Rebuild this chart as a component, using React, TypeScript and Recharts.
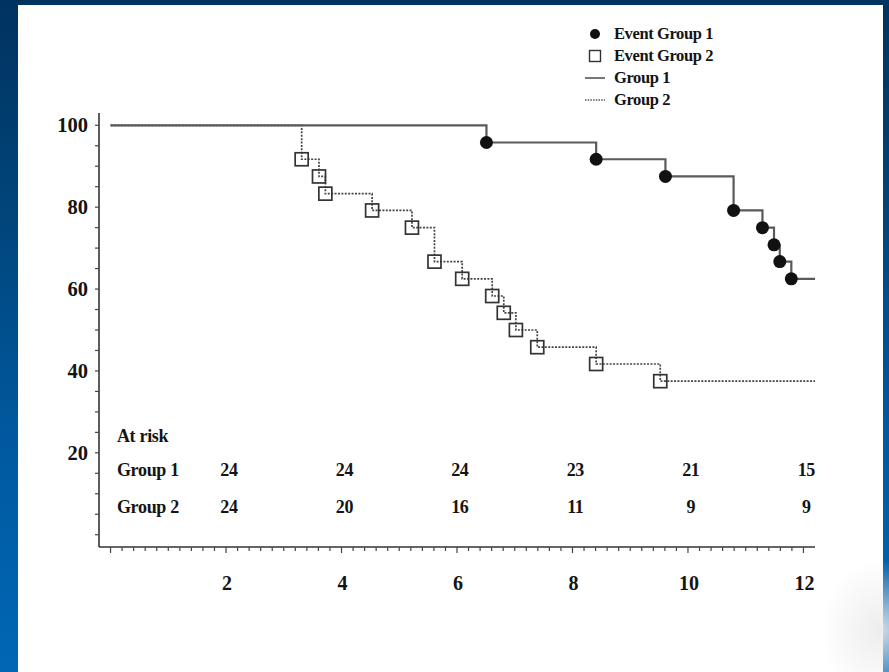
import React from 'react';
import { ComposedChart, Line, Scatter, XAxis, YAxis } from 'recharts';

// Kaplan-Meier estimates (percent surviving) at each event time
const eventTimes1 = [6.51, 8.41, 9.61, 10.79, 11.29, 11.49, 11.59, 11.79];
const survival1 = [95.8, 91.7, 87.5, 79.2, 75.0, 70.8, 66.7, 62.5];
const eventTimes2 = [3.31, 3.61, 3.72, 4.53, 5.22, 5.61, 6.09, 6.61, 6.81, 7.02, 7.39, 8.41, 9.52];
const survival2 = [91.7, 87.5, 83.3, 79.2, 75.0, 66.7, 62.5, 58.3, 54.2, 50.0, 45.8, 41.7, 37.5];
const followUpEnd = 12.2;

// Numbers at risk
const riskTimes = [2, 4, 6, 8, 10, 12];
const atRisk1 = [24, 24, 24, 23, 21, 15];
const atRisk2 = [24, 20, 16, 11, 9, 9];

const xLabelTicks = [2, 4, 6, 8, 10, 12];
const yLabelTicks = [20, 40, 60, 80, 100];

const FONT = '"Liberation Serif", "Times New Roman", serif';
const INK = '#141414';

const W = 889;
const H = 672;

// minor tick grids
const xMinor: number[] = [];
for (let i = 0; i <= 60; i++) xMinor.push(Math.round(i * 2) / 10);
const yMinor: number[] = [];
for (let i = 0; i <= 20; i++) yMinor.push(i * 5);

const curve = (times: number[], surv: number[]) => [
  { t: 0, v: 100 },
  ...times.map((t, i) => ({ t, v: surv[i] })),
  { t: followUpEnd, v: surv[surv.length - 1] },
];
const events = (times: number[], surv: number[]) => times.map((t, i) => ({ t, v: surv[i] }));

const curve1 = curve(eventTimes1, survival1);
const curve2 = curve(eventTimes2, survival2);
const events1 = events(eventTimes1, survival1);
const events2 = events(eventTimes2, survival2);

// vertical levels (in axis units) of the at-risk rows' baselines
const HEADER_LEVEL = 22.7;
const ROW1_LEVEL = 14.3;
const ROW2_LEVEL = 5.2;
const ROW_LABEL_T = 0.11;

const riskCells = [
  ...riskTimes.map((t, i) => ({ t: t + 0.05, v: ROW1_LEVEL, text: String(atRisk1[i]), anchor: 'middle' })),
  ...riskTimes.map((t, i) => ({ t: t + 0.05, v: ROW2_LEVEL, text: String(atRisk2[i]), anchor: 'middle' })),
  { t: ROW_LABEL_T, v: HEADER_LEVEL, text: 'At risk', anchor: 'start' },
  { t: ROW_LABEL_T, v: ROW1_LEVEL, text: 'Group 1', anchor: 'start' },
  { t: ROW_LABEL_T, v: ROW2_LEVEL, text: 'Group 2', anchor: 'start' },
];

const isLabelTick = (v: number, list: number[]) => list.some((x) => Math.abs(x - v) < 1e-6);

const XTick = (props: any) => {
  const { x, y, payload } = props;
  const v = payload.value as number;
  const major = isLabelTick(v, xLabelTicks) || Math.abs(v) < 1e-6;
  return (
    <g>
      <line x1={x} x2={x} y1={y} y2={y + (major ? 6 : 4)} stroke="#444" strokeWidth={1.2} />
      {isLabelTick(v, xLabelTicks) && (
        <text x={x + 1} y={y + 43} textAnchor="middle" fontFamily={FONT} fontWeight="bold" fontSize={20} fill={INK}>
          {v}
        </text>
      )}
    </g>
  );
};

const YTick = (props: any) => {
  const { x, y, payload } = props;
  const v = payload.value as number;
  return (
    <g>
      <line x1={x - 4} x2={x} y1={y} y2={y} stroke="#444" strokeWidth={1.2} />
      {isLabelTick(v, yLabelTicks) && (
        <text x={x - 11} y={y + 7} textAnchor="end" fontFamily={FONT} fontWeight="bold" fontSize={20.5} fill={INK}>
          {v}
        </text>
      )}
    </g>
  );
};

const Dot1 = (p: any) => <circle cx={p.cx} cy={p.cy} r={6.5} fill="#111" />;
const Box2 = (p: any) => (
  <rect x={p.cx - 6.5} y={p.cy - 6.5} width={13} height={13} fill="none" stroke="#333" strokeWidth={1.7} />
);
const Cell = (p: any) => (
  <text
    x={p.cx}
    y={p.cy}
    textAnchor={p.payload.anchor}
    fontFamily={FONT}
    fontWeight="bold"
    fontSize={18}
    fill={INK}
    letterSpacing={-0.3}
  >
    {p.payload.text}
  </text>
);

const legendItems = [
  { kind: 'dot', text: 'Event Group 1' },
  { kind: 'box', text: 'Event Group 2' },
  { kind: 'solid', text: 'Group 1' },
  { kind: 'dotted', text: 'Group 2' },
];

const LegendIcon = ({ kind }: { kind: string }) => (
  <svg width={22} height={16} style={{ display: 'block' }}>
    {kind === 'dot' && <circle cx={11} cy={8} r={5} fill="#111" />}
    {kind === 'box' && <rect x={5.5} y={2.5} width={11} height={11} fill="none" stroke="#333" strokeWidth={1.4} />}
    {kind === 'solid' && <line x1={1} x2={21} y1={8} y2={8} stroke="#555" strokeWidth={1.6} />}
    {kind === 'dotted' && <line x1={1} x2={21} y1={8} y2={8} stroke="#555" strokeWidth={1.4} strokeDasharray="1.5 1.2" />}
  </svg>
);

export default function App() {
  return (
    <div
      style={{
        position: 'absolute',
        left: 0,
        top: 0,
        width: W,
        height: H,
        overflow: 'hidden',
        background: 'linear-gradient(180deg, #00335f 0%, #004479 30%, #00599f 65%, #0067b6 100%)',
      }}
    >
      <div style={{ position: 'absolute', left: 18, top: 5, width: 865, height: 667, background: '#ffffff' }} />
      <div
        style={{
          position: 'absolute',
          left: 820,
          top: 560,
          width: 120,
          height: 140,
          background: 'radial-gradient(closest-side, rgba(235,235,235,0.9), rgba(255,255,255,0))',
        }}
      />
      <div style={{ position: 'absolute', left: 0, top: 0 }}>
        <ComposedChart width={W} height={H} margin={{ top: 113, right: 74, bottom: 85, left: 39 }}>
          <XAxis
            type="number"
            dataKey="t"
            domain={[-0.2, 12.2]}
            ticks={xMinor}
            interval={0}
            tickSize={0}
            tickMargin={0}
            tickLine={false}
            axisLine={{ stroke: '#333', strokeWidth: 1.6 }}
            tick={<XTick />}
            height={40}
            allowDataOverflow
          />
          <YAxis
            type="number"
            dataKey="v"
            domain={[-3, 103]}
            ticks={yMinor}
            interval={0}
            tickSize={0}
            tickMargin={0}
            tickLine={false}
            axisLine={{ stroke: '#333', strokeWidth: 1.6 }}
            tick={<YTick />}
            width={60}
            allowDataOverflow
          />
          <Line
            data={curve2}
            dataKey="v"
            type="stepAfter"
            stroke="#444"
            strokeWidth={1.7}
            strokeDasharray="2 1.4"
            dot={false}
            activeDot={false}
            isAnimationActive={false}
          />
          <Line
            data={curve1}
            dataKey="v"
            type="stepAfter"
            stroke="#5a5a5a"
            strokeWidth={2.2}
            dot={false}
            activeDot={false}
            isAnimationActive={false}
          />
          <Scatter data={events2} shape={<Box2 />} isAnimationActive={false} />
          <Scatter data={events1} shape={<Dot1 />} isAnimationActive={false} />
          <Scatter data={riskCells} shape={<Cell />} isAnimationActive={false} />
        </ComposedChart>
      </div>
      <div style={{ position: 'absolute', left: 584, top: 23 }}>
        {legendItems.map((it) => (
          <div key={it.text} style={{ display: 'flex', alignItems: 'center', height: 22 }}>
            <LegendIcon kind={it.kind} />
            <span
              style={{
                marginLeft: 8,
                fontFamily: FONT,
                fontWeight: 'bold',
                fontSize: 16.5,
                color: INK,
                letterSpacing: -0.4,
              }}
            >
              {it.text}
            </span>
          </div>
        ))}
      </div>
    </div>
  );
}
